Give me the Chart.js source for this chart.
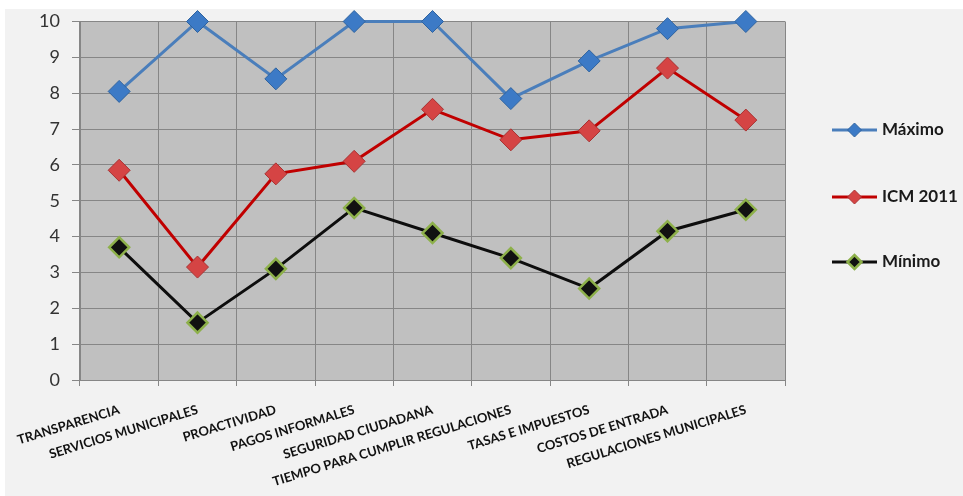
<!DOCTYPE html>
<html>
<head>
<meta charset="utf-8">
<script src="https://cdn.jsdelivr.net/npm/chart.js@4"></script>
<style>
  body { margin: 0; background: #fff; }
  #wrap { position: absolute; left: 5px; top: 9px; width: 958px; height: 487px; background: #f2f2f2; }
</style>
</head>
<body>
<div id="wrap"><canvas id="icmChart" width="958" height="487"></canvas></div>
<script>
const categories = ['TRANSPARENCIA', 'SERVICIOS MUNICIPALES', 'PROACTIVIDAD', 'PAGOS INFORMALES',
  'SEGURIDAD CIUDADANA', 'TIEMPO PARA CUMPLIR REGULACIONES', 'TASAS E IMPUESTOS',
  'COSTOS DE ENTRADA', 'REGULACIONES MUNICIPALES'];
const maximo = [8.05, 10, 8.4, 10, 10, 7.85, 8.9, 9.8, 10];
const icm2011 = [5.85, 3.15, 5.75, 6.1, 7.55, 6.7, 6.95, 8.7, 7.25];
const minimo = [3.7, 1.6, 3.1, 4.8, 4.1, 3.4, 2.55, 4.15, 4.75];
const yTicks = [0, 1, 2, 3, 4, 5, 6, 7, 8, 9, 10];

const gridColor = '#868686';

// gray plot area behind the grid
const plotBg = {
    id: 'plotBg',
    beforeDraw: (chart) => {
        const { ctx, chartArea: a } = chart;
        ctx.save();
        ctx.fillStyle = '#c0c0c0';
        ctx.fillRect(a.left, a.top, a.right - a.left, a.bottom - a.top);
        ctx.restore();
    }
};

// legend drawn at the right: line sample with a marker, then the label
const sideLegend = {
    id: 'sideLegend',
    afterDraw: (chart) => {
        const { ctx } = chart;
        const rows = [121, 188, 253];
        ctx.save();
        chart.data.datasets.forEach((ds, i) => {
            const y = rows[i];
            ctx.strokeStyle = ds.borderColor;
            ctx.lineWidth = 3;
            ctx.beginPath();
            ctx.moveTo(827, y);
            ctx.lineTo(872, y);
            ctx.stroke();
            const r = 7;
            ctx.beginPath();
            ctx.moveTo(849.5 - r, y);
            ctx.lineTo(849.5, y - r);
            ctx.lineTo(849.5 + r, y);
            ctx.lineTo(849.5, y + r);
            ctx.closePath();
            ctx.fillStyle = ds.pointBackgroundColor;
            ctx.fill();
            ctx.lineWidth = ds.pointBorderWidth;
            ctx.strokeStyle = ds.pointBorderColor;
            ctx.stroke();
            ctx.fillStyle = '#1a1a1a';
            ctx.font = 'bold 17px Lato';
            ctx.textBaseline = 'middle';
            ctx.fillText(ds.label, 877, y);
        });
        ctx.restore();
    }
};

const ctx = document.getElementById('icmChart');

new Chart(ctx, {
    type: 'line',
    data: {
        labels: categories,
        datasets: [{
            label: 'Máximo',
            data: maximo,
            borderColor: '#4a7ebb',
            borderWidth: 3,
            pointStyle: 'rectRot',
            pointRadius: 11,
            pointBackgroundColor: '#3c7ac6',
            pointBorderColor: '#2f639f',
            pointBorderWidth: 1,
            clip: false
        }, {
            label: 'ICM 2011',
            data: icm2011,
            borderColor: '#c00000',
            borderWidth: 3,
            pointStyle: 'rectRot',
            pointRadius: 11,
            pointBackgroundColor: '#d54444',
            pointBorderColor: '#a83232',
            pointBorderWidth: 1,
            clip: false
        }, {
            label: 'Mínimo',
            data: minimo,
            borderColor: '#0d0d0d',
            borderWidth: 3,
            pointStyle: 'rectRot',
            pointRadius: 10,
            pointBackgroundColor: '#111111',
            pointBorderColor: '#8db04a',
            pointBorderWidth: 2.5,
            clip: false
        }]
    },
    options: {
        responsive: false,
        animation: false,
        layout: { padding: { top: 11, right: 178, left: 0, bottom: 0 } },
        plugins: {
            legend: { display: false },
            tooltip: { enabled: false }
        },
        scales: {
            x: {
                offset: true,
                grid: { color: gridColor, offset: true, tickLength: 6 },
                border: { color: gridColor },
                ticks: {
                    autoSkip: false,
                    minRotation: 17,
                    maxRotation: 17,
                    padding: 16,
                    color: '#111',
                    font: { family: 'Lato', weight: 'bold', size: 13 }
                },
                afterFit: (scale) => {
                    scale.height = 116;
                    scale.paddingLeft = 0;
                    scale.paddingRight = 0;
                }
            },
            y: {
                min: 0,
                max: 10,
                afterBuildTicks: (scale) => { scale.ticks = yTicks.map(v => ({ value: v })); },
                grid: { color: gridColor, tickLength: 8 },
                border: { color: gridColor },
                ticks: {
                    padding: 12,
                    color: '#333',
                    font: { family: 'Lato', size: 18 }
                },
                afterFit: (scale) => {
                    scale.width = 75;
                    scale.paddingTop = 0;
                    scale.paddingBottom = 0;
                }
            }
        }
    },
    plugins: [plotBg, sideLegend]
});
</script>
</body>
</html>
